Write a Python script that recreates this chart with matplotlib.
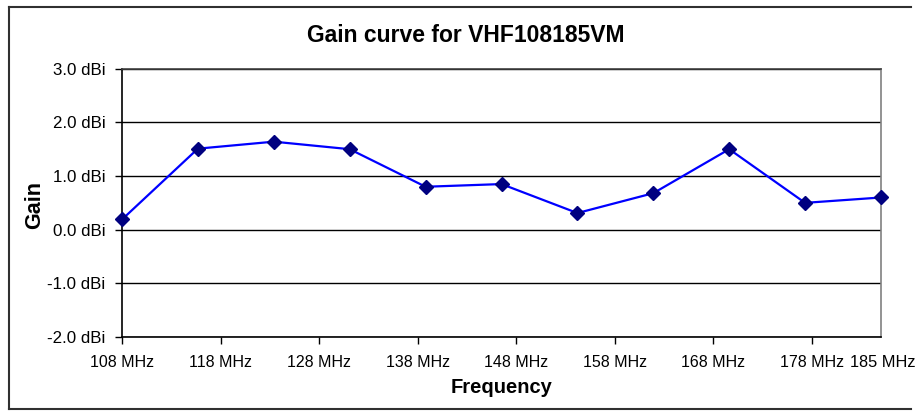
import matplotlib.pyplot as plt
from matplotlib.lines import Line2D

plt.rcParams['font.family'] = ['Liberation Sans', 'DejaVu Sans']

# data
freq_mhz = [108, 115.7, 123.4, 131.1, 138.8, 146.5, 154.2, 161.9, 169.6, 177.3, 185]
gain_dbi = [0.19, 1.51, 1.64, 1.5, 0.8, 0.85, 0.31, 0.68, 1.5, 0.5, 0.6]
x_ticks = [108, 118, 128, 138, 148, 158, 168, 178]
y_ticks = [-2, -1, 0, 1, 2, 3]

fig = plt.figure(figsize=(9.2, 4.12), dpi=100)

# outer chart frame: left, top and bottom only (right edge is cut off in the source)
# lines stop a little short of the canvas edge, otherwise an extra vertical stroke shows up
left, right, top, bottom = 9.5 / 920, 0.99, 1 - 7 / 412, 1 - 409 / 412
for xs, ys in [([left, right], [top, top]),
               ([left, right], [bottom, bottom]),
               ([left, left], [bottom, top])]:
    fig.add_artist(Line2D(xs, ys, transform=fig.transFigure, color='#303030', linewidth=1.5))

ax = fig.add_axes((122 / 920, 75 / 412, 759 / 920, 268.3 / 412))
ax.plot(freq_mhz, gain_dbi, color='#0000ff', linewidth=1.6, marker='D',
        markersize=7, markerfacecolor='#000080', markeredgecolor='#000080', clip_on=False, zorder=3)

ax.set_xlim(108, 185)
ax.set_ylim(-2, 3)
ax.set_xticks(x_ticks)
ax.set_xticklabels([f"{t} MHz" for t in x_ticks], fontsize=11.5)
ax.set_yticks(y_ticks)
ax.set_yticklabels([f"{t:.1f} dBi" for t in y_ticks], fontsize=12.2)
# last frequency label sits apart, without a tick
ax.text(185.2, -2.33, "185 MHz", fontsize=11.8, ha='center', va='top')

ax.yaxis.grid(True, color='black', linewidth=1)
ax.set_axisbelow(True)
ax.tick_params(axis='both', length=5, width=1, color='black')
ax.tick_params(axis='y', pad=7)
ax.tick_params(axis='x', pad=8)

ax.spines['left'].set_color('black')
ax.spines['bottom'].set_color('black')
ax.spines['top'].set_color('#404040')
ax.spines['right'].set_color('#808080')
for s in ax.spines.values():
    s.set_linewidth(1.2)

fig.text(466 / 920, 1 - 35 / 412, "Gain curve for VHF108185VM", fontsize=16.5,
         fontweight='bold', ha='center', va='center')
ax.set_xlabel("Frequency", fontsize=14.5, fontweight='bold', labelpad=6)
fig.text(35 / 920, 1 - 205 / 412, "Gain", fontsize=15.5, fontweight='bold',
         rotation=90, ha='center', va='center')

fig.savefig("out.png", dpi=100)
